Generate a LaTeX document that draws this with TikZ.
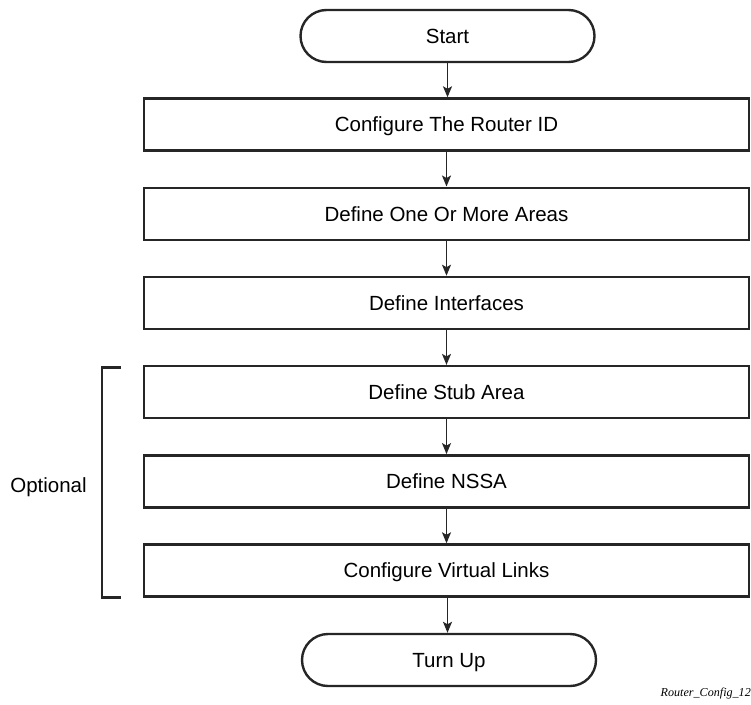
\documentclass[tikz,border=0pt]{standalone}
\usepackage{fontspec}
\setmainfont{Liberation Sans}
\newfontfamily\capfont{Liberation Serif}
\usetikzlibrary{arrows.meta}
\begin{document}
\begin{tikzpicture}[x=1pt,y=-1pt,
  every node/.style={font=\fontsize{20.5}{24}\selectfont},
  procbox/.style={draw=black!85, line width=2.4pt, minimum width=605pt, minimum height=52pt, inner sep=0pt, text height=14.7pt, text depth=0pt},
  termbox/.style={draw=black!85, line width=2.4pt, rounded corners=26pt, minimum width=294pt, minimum height=52pt, inner sep=0pt, text height=14.7pt, text depth=0pt},
  flow/.style={draw=black!85, line width=1.4pt, -{Stealth[length=11pt,width=9pt,inset=2.5pt]}},
  brack/.style={draw=black!85, line width=2.4pt}
]
\useasboundingbox (0,0) rectangle (751,704);
\node[termbox] (start) at (447.5,36) {Start};
\node[procbox] (b1) at (446.5,124.5) {Configure The Router ID};
\node[procbox] (b2) at (446.5,213.7) {Define One Or More Areas};
\node[procbox] (b3) at (446.5,302.9) {Define Interfaces};
\node[procbox] (b4) at (446.5,392.1) {Define Stub Area};
\node[procbox] (b5) at (446.5,481.3) {Define NSSA};
\node[procbox] (b6) at (446.5,570.5) {Configure Virtual Links};
\node[termbox] (end) at (449,660) {Turn Up};
\draw[flow] (start) -- (start |- b1.north);
\draw[flow] (b1) -- (b2);
\draw[flow] (b2) -- (b3);
\draw[flow] (b3) -- (b4);
\draw[flow] (b4) -- (b5);
\draw[flow] (b5) -- (b6);
\draw[flow] (b6.south -| start) -- (start |- end.north);
\coordinate (bt) at (121,367.5);
\coordinate (bb) at (121,597.5);
\draw[brack] (bt) -- (102,367.5) -- (102,597.5) -- (bb);
\node[anchor=center, text height=14.7pt, text depth=0pt, inner sep=0pt] (opt) at (48.5,485) {Optional};
\node[anchor=east, inner sep=0pt, font=\capfont\itshape\fontsize{12.1}{14}\selectfont] (cap) at (751,694) {Router\_Config\_12};
\end{tikzpicture}
\end{document}
